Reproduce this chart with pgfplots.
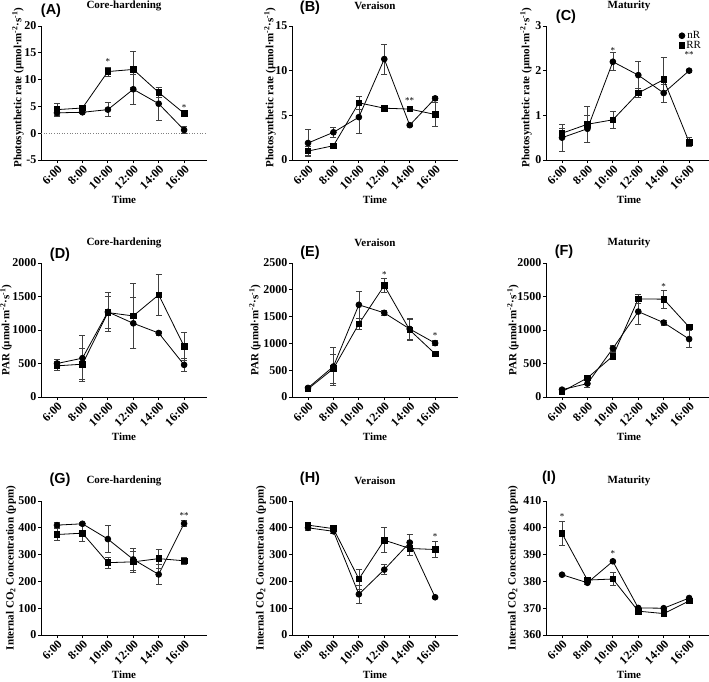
\documentclass[border=0pt]{standalone}
\usepackage{fontspec}
\setmainfont{Liberation Serif}
\newfontfamily\panelfont{Liberation Sans}
\usepackage{pgfplots}
\pgfplotsset{compat=1.18}
\newcommand{\fs}{\fontsize{11}{12.5}\selectfont}
\newcommand{\ft}{\fontsize{12}{13.5}\selectfont}
\newcommand{\unitpr}{(\textmu mol·m\textsuperscript{-2}·s\textsuperscript{-1})}
\pgfplotsset{
  panel/.style={
    scale only axis, width=166pt, height=134pt,
    anchor=south west,
    xmin=-0.63, xmax=5.9,
    axis x line*=bottom, axis y line*=left,
    axis line style={line width=0.9pt,-},
    tick align=outside, major tick length=3pt,
    every tick/.style={black, line width=0.9pt},
    xtick={0,...,5},
    xticklabels={6:00,8:00,10:00,12:00,14:00,16:00},
    xticklabel style={rotate=45, anchor=north east, inner sep=1pt, font=\bfseries\ft},
    yticklabel style={font=\bfseries\ft, inner sep=1.5pt},
    /pgf/number format/assume math mode=true,
    /pgf/number format/1000 sep={},
    xlabel={Time},
    xlabel style={at={(axis description cs:0.5,0)}, anchor=center, yshift=-40pt, font=\bfseries\fs},
    title style={at={(axis description cs:0.5,1)}, anchor=center, yshift=14pt, font=\bfseries\fs},
    clip=false,
    legend image code/.code={\draw[##1] plot coordinates {(0.12cm,0cm)};},
  },
  ylab/.style={ylabel style={at={([xshift=-#1]axis description cs:0,0.5)}, anchor=center, font=\bfseries\fs}},
  ylabr/.style={ylabel style={at={([xshift=-#1]axis description cs:0,0.54)}, anchor=center, font=\bfseries\fs}},
  nR/.style={black, line width=0.8pt, mark=*, mark size=2.9pt, mark options={solid},
     error bars/.cd, y dir=both, y explicit,
     error bar style={line width=0.7pt, black!75},
     error mark options={rotate=90, mark size=3pt, line width=0.7pt, black!75}},
  RR/.style={black, line width=0.8pt, mark=square*, mark size=2.8pt, mark options={solid},
     error bars/.cd, y dir=both, y explicit,
     error bar style={line width=0.7pt, black!75},
     error mark options={rotate=90, mark size=3pt, line width=0.7pt, black!75}},
}
\tikzset{star/.style={font=\fontsize{9}{9}\selectfont, inner sep=0pt, anchor=center}}
\begin{document}
\begin{tikzpicture}
\path[use as bounding box] (0,0) rectangle (709pt,-681pt);
% ---------------- Row 1 ----------------
\begin{axis}[panel, at={(41pt,-160pt)}, ymin=-5, ymax=20, ytick={-5,0,5,10,15,20},
  title={Core-hardening}, ylabel={Photosynthetic rate \unitpr}, ylabr=23pt]
\addplot[black!50, dotted, line width=0.6pt, forget plot] coordinates {(-0.63,0) (5.9,0)};
\addplot[nR] coordinates {(0,3.8)+-(0,0.4) (1,3.9)+-(0,0.2) (2,4.4)+-(0,1.3) (3,8.2)+-(0,2.8) (4,5.5)+-(0,3.1) (5,0.6)+-(0,0.6)};
\addplot[RR] coordinates {(0,4.4)+-(0,1.2) (1,4.7)+-(0,0.3) (2,11.5)+-(0,0.8) (3,11.9)+-(0,3.4) (4,7.6)+-(0,0.9) (5,3.7)+-(0,0.3)};
\node[star] at (axis cs:2,13.4) {*};
\node[star] at (axis cs:5,4.8) {*};
\end{axis}
\begin{axis}[panel, at={(292pt,-160pt)}, ymin=0, ymax=15, ytick={0,5,10,15},
  title={Veraison}, ylabel={Photosynthetic rate \unitpr}, ylabr=22pt]
\addplot[nR] coordinates {(0,1.9)+-(0,1.5) (1,3.1)+-(0,0.55) (2,4.8)+-(0,1.8) (3,11.3)+-(0,1.7) (4,3.9)+-(0,0.15) (5,6.9)+-(0,0.2)};
\addplot[RR] coordinates {(0,1.0)+-(0,0.5) (1,1.6)+-(0,0.1) (2,6.4)+-(0,0.7) (3,5.8)+-(0,0.3) (4,5.7)+-(0,0.3) (5,5.1)+-(0,1.3)};
\node[star] at (axis cs:4,6.7) {**};
\end{axis}
\begin{axis}[panel, at={(546pt,-160pt)}, ymin=0, ymax=3, ytick={0,1,2,3},
  title={Maturity}, ylabel={Photosynthetic rate \unitpr}, ylabr=20pt,
  legend style={at={(axis description cs:0.95,0.98)}, anchor=north east, draw=none, fill=none,
    font=\fs, row sep=-2pt, inner sep=1pt, nodes={inner sep=1.5pt}}]
\addplot[nR] coordinates {(0,0.5)+-(0,0.3) (1,0.7)+-(0,0.3) (2,2.2)+-(0,0.2) (3,1.9)+-(0,0.3) (4,1.5)+-(0,0.2) (5,2.0)+-(0,0.03)};
\addlegendentry{nR}
\addplot[RR] coordinates {(0,0.6)+-(0,0.1) (1,0.8)+-(0,0.4) (2,0.9)+-(0,0.2) (3,1.5)+-(0,0.1) (4,1.8)+-(0,0.5) (5,0.4)+-(0,0.1)};
\addlegendentry{RR}
\node[star] at (axis cs:2,2.44) {*};
\node[star] at (axis cs:5,2.36) {**};
\end{axis}
% ---------------- Row 2 ----------------
\begin{axis}[panel, at={(41pt,-397pt)}, ymin=0, ymax=2000, ytick={0,500,1000,1500,2000},
  title={Core-hardening}, ylabel={PAR \unitpr}, ylab=35pt]
\addplot[nR] coordinates {(0,500)+-(0,60) (1,580)+-(0,340) (2,1270)+-(0,290) (3,1100)+-(0,380) (4,955)+-(0,30) (5,480)+-(0,90)};
\addplot[RR] coordinates {(0,465)+-(0,60) (1,490)+-(0,230) (2,1260)+-(0,240) (3,1210)+-(0,480) (4,1525)+-(0,310) (5,755)+-(0,210)};
\end{axis}
\begin{axis}[panel, at={(292pt,-397pt)}, ymin=0, ymax=2500, ytick={0,500,1000,1500,2000,2500},
  title={Veraison}, ylabel={PAR \unitpr}, ylab=37pt]
\addplot[nR] coordinates {(0,170)+-(0,20) (1,570)+-(0,350) (2,1720)+-(0,260) (3,1570)+-(0,50) (4,1270)+-(0,200) (5,1005)+-(0,50)};
\addplot[RR] coordinates {(0,150)+-(0,20) (1,530)+-(0,270) (2,1365)+-(0,100) (3,2080)+-(0,130) (4,1250)+-(0,200) (5,805)+-(0,20)};
\node[star] at (axis cs:3,2290) {*};
\node[star] at (axis cs:5,1140) {*};
\end{axis}
\begin{axis}[panel, at={(546pt,-397pt)}, ymin=0, ymax=2000, ytick={0,500,1000,1500,2000},
  title={Maturity}, ylabel={PAR \unitpr}, ylab=33pt]
\addplot[nR] coordinates {(0,110)+-(0,20) (1,200)+-(0,50) (2,725)+-(0,50) (3,1275)+-(0,190) (4,1110)+-(0,40) (5,865)+-(0,130)};
\addplot[RR] coordinates {(0,80)+-(0,20) (1,285)+-(0,20) (2,610)+-(0,50) (3,1465)+-(0,60) (4,1460)+-(0,135) (5,1045)+-(0,30)};
\node[star] at (axis cs:4,1655) {*};
\end{axis}
% ---------------- Row 3 ----------------
\begin{axis}[panel, at={(41pt,-635pt)}, ymin=0, ymax=500, ytick={0,100,200,300,400,500},
  title={Core-hardening}, ylabel={Internal CO\textsubscript{2} Concentration (ppm)}, ylab=30pt]
\addplot[nR] coordinates {(0,410)+-(0,10) (1,415)+-(0,5) (2,358)+-(0,50) (3,282)+-(0,40) (4,226)+-(0,37) (5,416)+-(0,10)};
\addplot[RR] coordinates {(0,375)+-(0,22) (1,380)+-(0,32) (2,270)+-(0,20) (3,273)+-(0,38) (4,285)+-(0,36) (5,277)+-(0,12)};
\node[star] at (axis cs:5,445) {**};
\end{axis}
\begin{axis}[panel, at={(292pt,-635pt)}, ymin=0, ymax=500, ytick={0,100,200,300,400,500},
  title={Veraison}, ylabel={Internal CO\textsubscript{2} Concentration (ppm)}, ylab=31pt]
\addplot[nR] coordinates {(0,400)+-(0,10) (1,387)+-(0,8) (2,152)+-(0,32) (3,244)+-(0,18) (4,345)+-(0,32) (5,141)+-(0,5)};
\addplot[RR] coordinates {(0,410)+-(0,8) (1,397)+-(0,8) (2,209)+-(0,37) (3,354)+-(0,47) (4,323)+-(0,25) (5,319)+-(0,31)};
\node[star] at (axis cs:5,367) {*};
\end{axis}
\begin{axis}[panel, at={(546pt,-635pt)}, ymin=360, ymax=410, ytick={360,370,380,390,400,410},
  title={Maturity}, ylabel={Internal CO\textsubscript{2} Concentration (ppm)}, ylab=33pt]
\addplot[nR] coordinates {(0,382.5)+-(0,0.3) (1,379.5)+-(0,0.5) (2,387.5)+-(0,0.5) (3,370.1)+-(0,0.5) (4,370.0)+-(0,0.3) (5,373.8)+-(0,0.3)};
\addplot[RR] coordinates {(0,397.9)+-(0,4.4) (1,380.5)+-(0,0.5) (2,380.9)+-(0,2.5) (3,368.9)+-(0,0.8) (4,368.0)+-(0,0.4) (5,372.7)+-(0,0.4)};
\node[star] at (axis cs:0,404.3) {*};
\node[star] at (axis cs:2,390.5) {*};
\end{axis}
% ---------------- Panel labels ----------------
\begin{scope}[every node/.style={font=\panelfont\bfseries\fontsize{14.5}{16}\selectfont, inner sep=0pt, anchor=center}]
\node at (51pt,-11pt) {(A)};
\node at (310pt,-8pt) {(B)};
\node at (566pt,-17pt) {(C)};
\node at (60pt,-255pt) {(D)};
\node at (310pt,-253pt) {(E)};
\node at (564pt,-252pt) {(F)};
\node at (60pt,-480pt) {(G)};
\node at (310pt,-479pt) {(H)};
\node at (549pt,-478pt) {(I)};
\end{scope}
\end{tikzpicture}
\end{document}
